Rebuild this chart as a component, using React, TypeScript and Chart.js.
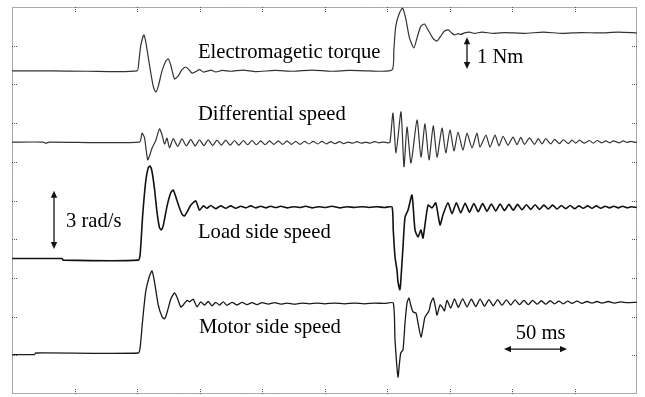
import React, { useEffect, useRef } from "react";
import { Chart, registerables } from "chart.js";

Chart.register(...registerables);

// time axis: 0..500 ms (10 divisions of 50 ms); vertical: 0..10 scope divisions
const timeRange: [number, number] = [0, 500];
const divRange: [number, number] = [0, 10];

const torque: [number, number][] = [
  [0, 8.35], [30, 8.35], [60, 8.34], [100, 8.35], [101.5, 8.6], [103, 9.0], [105.5, 9.28], [107, 9.1],
  [110, 8.5], [113, 7.95], [115, 7.8], [117, 7.95], [120, 8.35], [123, 8.6], [125, 8.66], [127, 8.5],
  [130, 8.14], [133, 8.22], [136, 8.38], [139, 8.45], [141, 8.4], [144, 8.29], [147, 8.33], [150, 8.38],
  [153, 8.32], [156, 8.34], [159, 8.37], [163, 8.32], [168, 8.36], [175, 8.34], [185, 8.37], [195, 8.33],
  [210, 8.36], [225, 8.34], [240, 8.37], [255, 8.34], [270, 8.36], [285, 8.35], [304, 8.37], [305.5, 8.9],
  [307, 9.5], [310, 9.85], [312.5, 9.97], [315, 9.7], [318, 9.2], [321.5, 8.94], [324, 9.2], [327, 9.5],
  [330, 9.56], [333, 9.4], [337, 9.18], [340, 9.12], [343, 9.25], [346, 9.38], [349, 9.41], [352, 9.32],
  [354, 9.28], [357, 9.31], [359, 9.29], [362, 9.33], [366, 9.35], [370, 9.32], [376, 9.35], [385, 9.32],
  [395, 9.34], [410, 9.32], [425, 9.35], [440, 9.32], [455, 9.34], [470, 9.33], [485, 9.35], [500, 9.33],
];

const differential: [number, number][] = [
  [0, 6.51], [25, 6.51], [27, 6.48], [30, 6.51], [102, 6.51], [104, 6.74], [106, 6.62], [108.5, 6.05],
  [110, 6.15], [112, 6.35], [115, 6.55], [118, 6.85], [120, 6.7], [122, 6.46], [124, 6.61], [126, 6.36],
  [129, 6.6], [132.5, 6.4], [136, 6.59], [139.5, 6.41], [143, 6.58], [146.5, 6.41], [150, 6.57], [153.5, 6.42],
  [157, 6.57], [160.5, 6.42], [164, 6.56], [167.5, 6.43], [171, 6.56], [174.5, 6.43], [178, 6.55], [181.5, 6.43],
  [185, 6.55], [188.5, 6.44], [192, 6.55], [195.5, 6.44], [199, 6.54], [202.5, 6.44], [206, 6.54], [209.5, 6.45],
  [213, 6.54], [216.5, 6.45], [220, 6.54], [223.5, 6.45], [227, 6.53], [230.5, 6.45], [234, 6.53], [237.5, 6.46],
  [241, 6.53], [244.5, 6.46], [248, 6.53], [251.5, 6.46], [255, 6.52], [258.5, 6.47], [262, 6.52], [265.5, 6.47],
  [269, 6.51], [272.5, 6.48], [276, 6.52], [279.5, 6.48], [283, 6.51], [286.5, 6.48], [290, 6.52], [293.5, 6.49],
  [297, 6.51], [300.5, 6.49], [302.4, 6.51], [304.8, 7.26], [307.2, 6.23], [311.2, 7.29], [313.6, 5.87], [316, 6.9],
  [319.2, 5.97], [324, 7.08], [327.2, 6.12], [330.4, 6.98], [333.6, 6.05], [337, 6.93], [340, 6.12], [344, 6.87],
  [347, 6.23], [350.4, 6.82], [353.6, 6.28], [356.8, 6.77], [360.8, 6.3], [364, 6.74], [368, 6.36], [372, 6.74],
  [374.4, 6.38], [379.2, 6.69], [382.4, 6.38], [386.4, 6.69], [389.6, 6.41], [392.8, 6.66], [396.8, 6.43], [400.8, 6.64],
  [404, 6.44], [407, 6.63], [410, 6.45], [414, 6.62], [418, 6.45], [421, 6.6], [424, 6.46], [427, 6.6],
  [431, 6.46], [434, 6.58], [438, 6.47], [441, 6.57], [445, 6.47], [448, 6.56], [451, 6.48], [454, 6.56],
  [458, 6.48], [462, 6.55], [465, 6.48], [468, 6.55], [472, 6.49], [475, 6.54], [478, 6.49], [481, 6.54],
  [486, 6.49], [489, 6.54], [492, 6.5], [495, 6.53], [499, 6.5], [500, 6.52],
];

const loadSide: [number, number][] = [
  [0, 3.5], [40, 3.5], [41, 3.46], [101, 3.46], [102.5, 3.6], [104.5, 4.6], [107, 5.5], [109, 5.85],
  [110.5, 5.89], [112, 5.75], [114, 5.3], [116, 4.7], [118, 4.3], [119.5, 4.24], [121, 4.35], [124, 4.85],
  [127, 5.2], [129, 5.27], [131, 5.1], [133.5, 4.85], [136, 4.65], [138, 4.6], [140, 4.7], [143, 4.88],
  [147, 4.99], [150, 4.75], [153, 4.86], [156, 4.8], [159, 4.87], [163, 4.79], [167, 4.86], [171, 4.8],
  [175, 4.86], [179, 4.8], [183, 4.85], [187, 4.81], [191, 4.86], [195, 4.81], [199, 4.85], [203, 4.81],
  [207, 4.85], [211, 4.82], [215, 4.85], [220, 4.81], [225, 4.84], [230, 4.82], [235, 4.85], [240, 4.81],
  [245, 4.84], [250, 4.82], [256, 4.85], [262, 4.81], [268, 4.84], [274, 4.82], [280, 4.84], [286, 4.82],
  [292, 4.84], [298, 4.82], [304, 4.83], [305, 4.24], [306.4, 3.54], [308, 3.2], [308.8, 2.9], [310.4, 2.69],
  [311, 2.9], [312.8, 3.8], [314.4, 4.57], [316.8, 4.75], [320, 5.14], [322.4, 4.24], [324.8, 4.06], [327.2, 4.24],
  [328.8, 4.03], [332.8, 4.88], [336, 4.81], [339, 4.94], [342.4, 4.37], [344.8, 4.63], [348.8, 4.94], [352, 4.66],
  [355.5, 4.94], [359, 4.68], [362.5, 4.93], [366, 4.7], [369.5, 4.92], [373, 4.71], [376.5, 4.92], [380, 4.72],
  [383.5, 4.91], [387, 4.73], [390.5, 4.91], [394, 4.74], [397.5, 4.9], [401, 4.75], [404.5, 4.9], [408, 4.76],
  [411.5, 4.89], [415, 4.77], [418.5, 4.89], [422, 4.77], [425.5, 4.88], [429, 4.78], [432.5, 4.88], [436, 4.78],
  [439.5, 4.87], [443, 4.79], [446.5, 4.87], [450, 4.79], [453.5, 4.86], [457, 4.8], [460.5, 4.86], [464, 4.8],
  [467.5, 4.86], [471, 4.8], [474.5, 4.85], [478, 4.81], [481.5, 4.85], [485, 4.81], [488.5, 4.85], [492, 4.81],
  [495.5, 4.84], [500, 4.82],
];

const motorSide: [number, number][] = [
  [0, 1.02], [18, 1.02], [19, 1.06], [101, 1.06], [102.5, 1.2], [104.5, 1.9], [107, 2.65], [110, 3.05],
  [112, 3.18], [114, 2.9], [117, 2.3], [120, 2.0], [122, 1.94], [124, 2.1], [127, 2.45], [130, 2.61],
  [132, 2.5], [135, 2.25], [137, 2.3], [140, 2.42], [142, 2.38], [145, 2.45], [148, 2.25], [151, 2.38],
  [154, 2.3], [157, 2.39], [160, 2.28], [163, 2.37], [166, 2.3], [169, 2.38], [172, 2.29], [176, 2.37],
  [180, 2.3], [184, 2.37], [188, 2.31], [192, 2.36], [196, 2.31], [200, 2.36], [205, 2.32], [210, 2.36],
  [215, 2.32], [220, 2.35], [226, 2.32], [232, 2.35], [238, 2.33], [244, 2.35], [250, 2.33], [258, 2.35],
  [266, 2.33], [274, 2.35], [282, 2.33], [290, 2.35], [298, 2.34], [305, 2.35], [306.4, 1.4], [308.8, 0.44],
  [310, 0.8], [311, 1.06], [312.8, 1.14], [314.4, 1.83], [316, 2.35], [317.6, 2.48], [319, 2.3], [320.8, 2.12],
  [323.2, 2.09], [325, 1.8], [327.2, 1.47], [329, 1.75], [330.4, 1.99], [333.6, 2.15], [335, 2.35], [337, 2.48],
  [339, 2.2], [340, 2.04], [342.4, 2.3], [344, 2.25], [346, 2.15], [348, 2.42], [351, 2.22], [354, 2.46],
  [357, 2.24], [360.5, 2.46], [364, 2.25], [367.5, 2.45], [371, 2.26], [374.5, 2.45], [378, 2.27], [381.5, 2.44],
  [385, 2.28], [388.5, 2.44], [392, 2.29], [395.5, 2.43], [399, 2.3], [402.5, 2.43], [406, 2.31], [409.5, 2.42],
  [413, 2.31], [416.5, 2.42], [420, 2.32], [423.5, 2.41], [427, 2.32], [430.5, 2.41], [434, 2.33], [437.5, 2.4],
  [441, 2.33], [444.5, 2.4], [448, 2.34], [452, 2.4], [456, 2.34], [460, 2.39], [464, 2.35], [468, 2.39],
  [472, 2.35], [477, 2.39], [482, 2.35], [487, 2.38], [492, 2.36], [500, 2.37],
];

const traceLabels = ["Electromagetic torque", "Differential speed", "Load side speed", "Motor side speed"];
const scaleLabels = ["1 Nm", "3 rad/s", "50 ms"];

const toXY = (a: [number, number][]) => a.map(([x, y]) => ({ x, y }));

const overlay = {
  id: "scopeOverlay",
  afterDraw(chart: any) {
    const { ctx, chartArea: a, scales } = chart;
    const xs = scales.x;
    const ys = scales.y;
    const px = (t: number) => xs.getPixelForValue(t);
    const py = (v: number) => ys.getPixelForValue(v);
    ctx.save();
    // dotted frame
    ctx.strokeStyle = "#555";
    ctx.lineWidth = 1;
    ctx.setLineDash([1, 1]);
    ctx.strokeRect(a.left + 0.5, a.top + 0.5, a.right - a.left - 1, a.bottom - a.top - 1);
    // division ticks
    for (let i = 1; i < 10; i++) {
      const x = Math.round(px(timeRange[0] + (i * (timeRange[1] - timeRange[0])) / 10)) + 0.5;
      const y = Math.round(py(divRange[0] + (i * (divRange[1] - divRange[0])) / 10)) + 0.5;
      ctx.beginPath();
      ctx.moveTo(x, a.top);
      ctx.lineTo(x, a.top + 5);
      ctx.moveTo(x, a.bottom);
      ctx.lineTo(x, a.bottom - 5);
      ctx.moveTo(a.left, y);
      ctx.lineTo(a.left + 5, y);
      ctx.moveTo(a.right, y);
      ctx.lineTo(a.right - 5, y);
      ctx.stroke();
    }
    ctx.setLineDash([]);
    // labels (anchored at text baseline)
    ctx.fillStyle = "#000";
    ctx.font = '20.6px "Liberation Serif", "Times New Roman", serif';
    ctx.textAlign = "left";
    ctx.textBaseline = "alphabetic";
    const labelAnchors: [number, number][] = [
      [148.8, 8.68], [148.8, 7.08], [148.8, 4.03], [149.6, 1.58],
    ];
    traceLabels.forEach((s, i) => ctx.fillText(s, px(labelAnchors[i][0]), py(labelAnchors[i][1])));
    const scaleAnchors: [number, number][] = [[372, 8.56], [43.2, 4.32], [403, 1.42]];
    scaleLabels.forEach((s, i) => ctx.fillText(s, px(scaleAnchors[i][0]), py(scaleAnchors[i][1])));
    // double arrows
    const arrow = (x1: number, y1: number, x2: number, y2: number) => {
      const ang = Math.atan2(y2 - y1, x2 - x1);
      const L = 7, W = 3.2;
      ctx.strokeStyle = "#111";
      ctx.fillStyle = "#111";
      ctx.lineWidth = 1.3;
      ctx.beginPath();
      ctx.moveTo(x1 + Math.cos(ang) * 4, y1 + Math.sin(ang) * 4);
      ctx.lineTo(x2 - Math.cos(ang) * 4, y2 - Math.sin(ang) * 4);
      ctx.stroke();
      const head = (hx: number, hy: number, d: number) => {
        const c = Math.cos(d), sn = Math.sin(d);
        ctx.beginPath();
        ctx.moveTo(hx, hy);
        ctx.lineTo(hx - c * L - sn * W, hy - sn * L + c * W);
        ctx.lineTo(hx - c * L + sn * W, hy - sn * L - c * W);
        ctx.closePath();
        ctx.fill();
      };
      head(x2, y2, ang);
      head(x1, y1, ang + Math.PI);
    };
    arrow(px(364), py(9.22), px(364), py(8.4));
    arrow(px(33.6), py(5.25), px(33.6), py(3.75));
    arrow(px(393.6), py(1.16), px(444), py(1.16));
    ctx.restore();
  },
};

export default function App() {
  const ref = useRef<HTMLCanvasElement>(null);
  useEffect(() => {
    if (!ref.current) return;
    const ds = (data: [number, number][], color: string, w: number) => ({
      data: toXY(data),
      borderColor: color,
      borderWidth: w,
      pointRadius: 0,
      tension: 0.2,
      fill: false,
    });
    const chart = new Chart(ref.current, {
      type: "line",
      data: {
        datasets: [
          ds(torque, "#333", 1.2),
          ds(differential, "#333", 1.2),
          ds(loadSide, "#111", 1.6),
          ds(motorSide, "#1a1a1a", 1.3),
        ],
      },
      options: {
        responsive: false,
        animation: false,
        layout: { padding: { left: 12, top: 7, right: 8, bottom: 3 } },
        scales: {
          x: { type: "linear", min: timeRange[0], max: timeRange[1], display: false },
          y: { type: "linear", min: divRange[0], max: divRange[1], display: false },
        },
        plugins: { legend: { display: false }, tooltip: { enabled: false } },
      },
      plugins: [overlay],
    });
    return () => chart.destroy();
  }, []);
  return (
    <div style={{ position: "fixed", left: 0, top: 0, width: 645, height: 397, background: "#fff" }}>
      <canvas ref={ref} width={645} height={397} />
    </div>
  );
}
